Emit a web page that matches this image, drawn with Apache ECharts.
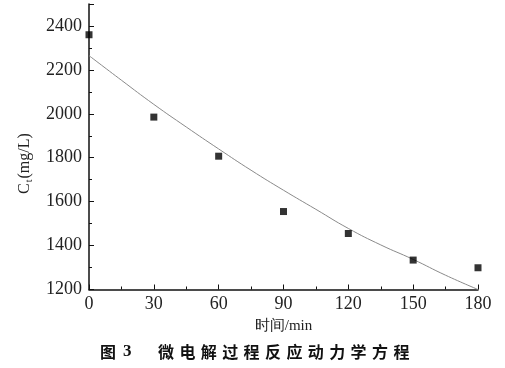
<!DOCTYPE html>
<html>
<head>
<meta charset="utf-8">
<script src="https://cdn.jsdelivr.net/npm/echarts@6/dist/echarts.min.js"></script>
<style>html,body{margin:0;padding:0;background:#fff;}#c{width:505px;height:368px;}</style>
</head>
<body>
<div id="c"></div>
<script>
// measured data
const times = [0, 30, 60, 90, 120, 150, 180];
const concentrations = [2360, 1985, 1807, 1555, 1455, 1334, 1299];
// fitted curve
const fitTimes = [0, 15, 30, 45, 60, 75, 90, 105, 120, 135, 150, 165, 180];
const fitValues = [2265, 2153, 2043, 1940, 1840, 1743, 1652, 1565, 1478, 1403, 1337, 1265, 1200];
const xTicks = [0, 30, 60, 90, 120, 150, 180];
const yTicks = [1200, 1400, 1600, 1800, 2000, 2200, 2400];
const xName = '时间/min';
const captionHead = ['图', '3'];
const captionBody = '微电解过程反应动力学方程'.split('');

const chart = echarts.init(document.getElementById('c'), null, {renderer: 'canvas'});
const serif = 'Liberation Serif';
const cjk = 'Noto Sans CJK SC';

const graphics = [];
graphics.push({
  type: 'text', x: 16, y: 194,
  rotation: Math.PI / 2,
  style: {
    text: '{c|C}{s|t}{c|(mg/L)}',
    rich: {
      c: {fontFamily: serif, fontSize: 16, fill: '#222'},
      s: {fontFamily: serif, fontSize: 10, fill: '#222', padding: [8, 1, 0, 1]}
    }
  }
});
graphics.push({type:'text', x:100, y:344, style:{text:captionHead[0], fontFamily:cjk, fontWeight:'bold', fontSize:16, fill:'#111'}});
graphics.push({type:'text', x:123, y:343, style:{text:captionHead[1], fontFamily:serif, fontWeight:'bold', fontSize:17, fill:'#111'}});
captionBody.forEach((ch, i) => {
  graphics.push({type:'text', x:158 + i*21.4, y:344, style:{text:ch, fontFamily:cjk, fontWeight:'bold', fontSize:16, fill:'#111'}});
});

chart.setOption({
  animation: false,
  textStyle: {fontFamily: serif},
  grid: {left: 89, right: 27, top: 4, bottom: 78.5, containLabel: false},
  xAxis: {
    type: 'value', min: xTicks[0], max: xTicks[xTicks.length-1], interval: 30,
    axisLine: {lineStyle: {color: '#111', width: 1.5}},
    axisTick: {inside: true, length: 5, lineStyle: {color: '#111'}},
    minorTick: {show: true, splitNumber: 2, length: 3, lineStyle: {color: '#111'}},
    splitLine: {show: false},
    axisLabel: {fontFamily: serif, fontSize: 18, color: '#222', margin: 6},
    name: xName, nameLocation: 'middle', nameGap: 29,
    nameTextStyle: {fontFamily: serif, fontSize: 15, color: '#222'}
  },
  yAxis: {
    type: 'value', min: yTicks[0], max: 2500, interval: 200,
    axisLine: {show: true, lineStyle: {color: '#111', width: 1.5}},
    axisTick: {show: true, inside: true, length: 5, lineStyle: {color: '#111'}},
    minorTick: {show: true, splitNumber: 2, length: 3, lineStyle: {color: '#111'}},
    splitLine: {show: false},
    axisLabel: {fontFamily: serif, fontSize: 18, color: '#222', margin: 7, showMaxLabel: false,
      formatter: v => yTicks.indexOf(v) >= 0 ? String(v) : ''}
  },
  graphic: graphics,
  series: [
    {
      type: 'line', data: fitTimes.map((t, i) => [t, fitValues[i]]),
      smooth: true, showSymbol: false, symbol: 'none',
      lineStyle: {color: '#8a8a8a', width: 1}, z: 1
    },
    {
      type: 'scatter', data: times.map((t, i) => [t, concentrations[i]]),
      symbol: 'rect', symbolSize: 7, clip: true,
      itemStyle: {color: '#000'}, z: 2
    }
  ]
});
</script>
</body>
</html>
